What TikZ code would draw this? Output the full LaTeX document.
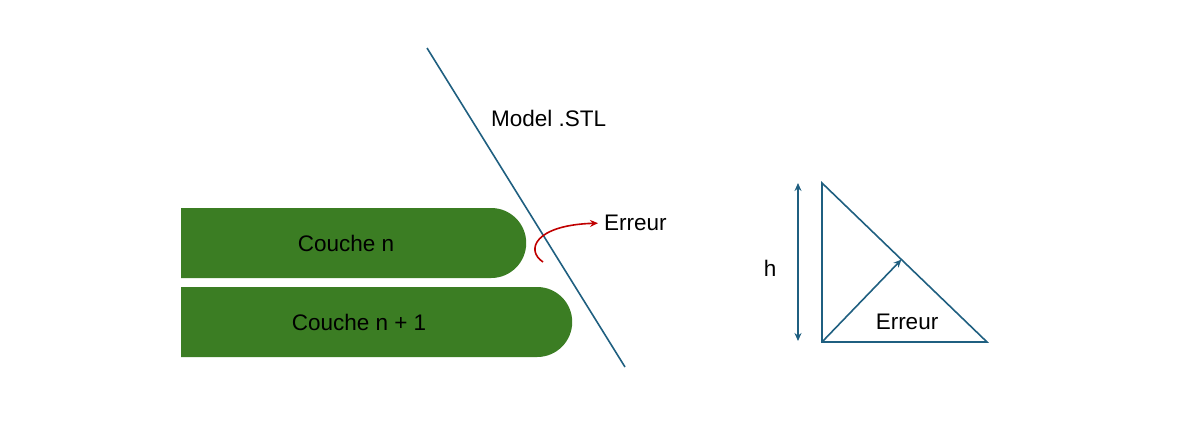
\documentclass[tikz,border=0pt]{standalone}
\usepackage{fontspec}
\setmainfont{Liberation Sans}
\usetikzlibrary{shapes.misc,arrows.meta,calc}
\definecolor{layergreen}{HTML}{3B7D23}
\definecolor{stlblue}{HTML}{1F5F80}
\definecolor{errred}{HTML}{C00000}
\tikzset{
  layer/.style={rounded rectangle, rounded rectangle left arc=none, fill=layergreen, inner sep=0pt, minimum height=70pt, anchor=west},
  lbl/.style={font=\fontsize{22.5}{27}\selectfont, inner sep=0pt, text=black},
  stl/.style={draw=stlblue, line width=1.6pt},
  tip/.style={-{Stealth[length=8pt,width=7pt]}},
}
\begin{document}
\begin{tikzpicture}[x=1pt,y=-1pt]
\useasboundingbox (0,0) rectangle (1202,445);
% layers
\node[layer, minimum width=345pt] (l1) at (181,243) {};
\node[layer, minimum width=391pt] (l2) at (181,322) {};
\node[lbl] (t1) at (346,243) {Couche n};
\node[lbl] (t2) at (359,322) {Couche n + 1};
% STL line
\coordinate (s1) at (427,48);
\coordinate (s2) at (625,367);
\draw[stl] (s1) -- (s2);
\node[lbl, anchor=west] (model) at (491,118) {Model .STL};
% error arrow
\coordinate (e0) at (543,262);
\node[lbl, anchor=west] (err) at (604,223) {Erreur};
\draw[errred, line width=1.6pt, tip, shorten >=6pt] (e0) .. controls (525,250) and (535,225) .. (err.west);
% triangle
\coordinate (A) at (822,183);
\coordinate (B) at (822,342);
\coordinate (C) at (987,342);
\draw[stl, line join=miter] (A) -- (B) -- (C) -- cycle;
\coordinate (D) at ($(A)!(B)!(C)$);
\draw[stl, tip] (B) -- (D);
\coordinate (h1) at (798,183);
\coordinate (h2) at (798,341);
\draw[stl, {Stealth[length=8pt,width=7pt]}-{Stealth[length=8pt,width=7pt]}] (h1) -- (h2);
\node[lbl] (hl) at (770,268) {h};
\node[lbl] (err2) at (907,322) {Erreur};
\end{tikzpicture}
\end{document}
